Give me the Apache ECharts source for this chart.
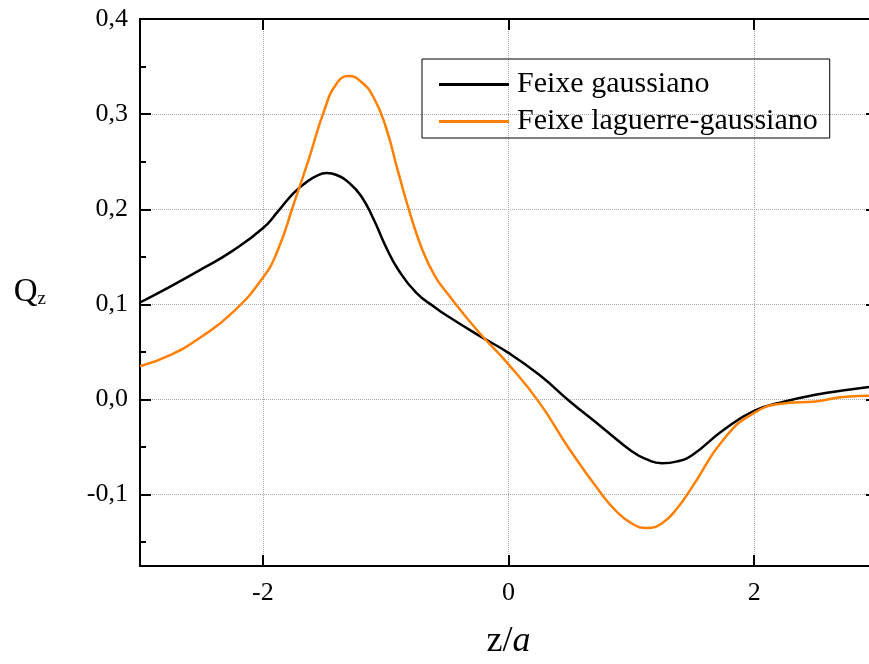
<!DOCTYPE html>
<html>
<head>
<meta charset="utf-8">
<script src="https://cdn.jsdelivr.net/npm/echarts@6/dist/echarts.min.js"></script>
<style>html,body{margin:0;padding:0;background:#fff;overflow:hidden;}#c{width:869px;height:664px;}</style>
</head>
<body>
<div id="c"></div>
<script>
const gaussZ = [-3, -2.75, -2.5, -2.25, -2, -1.875, -1.75, -1.65, -1.55, -1.48, -1.4, -1.3, -1.2, -1.1, -1, -0.9, -0.75, -0.6, -0.5, -0.25, 0, 0.25, 0.5, 0.75, 1, 1.125, 1.25, 1.375, 1.5, 1.75, 2, 2.25, 2.5, 2.75, 3];
const gaussQ = [0.102, 0.119, 0.137, 0.156, 0.180, 0.198, 0.217, 0.228, 0.236, 0.238, 0.236, 0.228, 0.214, 0.190, 0.161, 0.137, 0.112, 0.097, 0.088, 0.068, 0.049, 0.026, -0.002, -0.028, -0.054, -0.063, -0.067, -0.065, -0.058, -0.032, -0.012, -0.002, 0.005, 0.010, 0.014];
const lagZ = [-3, -2.75, -2.5, -2.25, -2, -1.875, -1.75, -1.625, -1.5, -1.4, -1.3, -1.2, -1.1, -1, -0.9, -0.8, -0.7, -0.6, -0.5, -0.25, 0, 0.25, 0.5, 0.75, 0.875, 1, 1.125, 1.25, 1.375, 1.5, 1.75, 2, 2.25, 2.5, 2.75, 3];
const lagQ = [0.035, 0.047, 0.066, 0.091, 0.128, 0.158, 0.205, 0.253, 0.304, 0.332, 0.340, 0.334, 0.318, 0.287, 0.240, 0.195, 0.157, 0.130, 0.112, 0.072, 0.037, -0.003, -0.053, -0.098, -0.117, -0.130, -0.135, -0.130, -0.114, -0.091, -0.042, -0.014, -0.004, -0.002, 0.003, 0.004];
const seriesNames = ['Feixe gaussiano', 'Feixe laguerre-gaussiano'];
const minorYTicks = [-0.15, -0.05, 0.05, 0.15, 0.25, 0.35];

const FONT = 'Liberation Serif';
const pairs = (xs, ys) => xs.map((x, i) => [x, ys[i]]);
const axisLine = { show: true, onZero: false, lineStyle: { color: '#000', width: 2 } };
const gridLine = { show: true, lineStyle: { color: '#aaa', type: 'dotted', width: 1 } };

const chart = echarts.init(document.getElementById('c'));
chart.setOption({
  animation: false,
  backgroundColor: '#fff',
  grid: { left: 140, top: 19, width: 737, height: 547, containLabel: false, outerBoundsMode: 'none' },
  legend: {
    orient: 'vertical', left: 422, top: 59,
    borderColor: '#000', borderWidth: 1,
    padding: [9, 12, 0, 17], itemGap: 4,
    itemWidth: 70, itemHeight: 3, icon: 'rect',
    textStyle: { fontFamily: FONT, fontSize: 30, color: '#000', lineHeight: 33, padding: [0, 0, 0, 3] },
    data: seriesNames
  },
  xAxis: [
    {
      type: 'value', min: -3, max: 3, splitNumber: 3, position: 'bottom',
      axisLine: axisLine,
      axisTick: { show: true, inside: true, length: 11, lineStyle: { color: '#000', width: 2 } },
      axisLabel: { show: true, showMinLabel: false, showMaxLabel: false, margin: 14, fontFamily: FONT, fontSize: 26, color: '#000' },
      splitLine: gridLine,
      name: '{n|z/}{i|a}', nameLocation: 'middle', nameGap: 58,
      nameTextStyle: { rich: { n: { fontFamily: FONT, fontSize: 36, color: '#000' }, i: { fontFamily: FONT, fontSize: 36, fontStyle: 'italic', color: '#000' } } }
    },
    {
      type: 'value', min: -3, max: 3, splitNumber: 3, position: 'top',
      axisLine: axisLine,
      axisTick: { show: true, inside: true, length: 11, lineStyle: { color: '#000', width: 2 } },
      axisLabel: { show: false },
      splitLine: { show: false }
    }
  ],
  yAxis: [
    {
      type: 'value', min: -0.175, max: 0.4, splitNumber: 6, position: 'left',
      axisLine: axisLine,
      axisTick: { show: true, inside: true, length: 11, lineStyle: { color: '#000', width: 2 } },
      axisLabel: { show: true, showMinLabel: false, margin: 12, fontFamily: FONT, fontSize: 26, color: '#000',
        formatter: v => v.toFixed(1).replace('.', ',') },
      splitLine: gridLine,
      name: '{q|Q}{s|z}', nameLocation: 'middle', nameRotate: 0, nameGap: 94,
      nameTextStyle: { rich: { q: { fontFamily: FONT, fontSize: 33, color: '#000' }, s: { fontFamily: FONT, fontSize: 19, color: '#000', verticalAlign: 'bottom', padding: [14, 0, 0, 0] } } }
    },
    {
      type: 'value', min: -0.175, max: 0.4, position: 'left',
      axisLine: { show: false, onZero: false },
      axisTick: { show: true, inside: true, length: 6, customValues: minorYTicks, lineStyle: { color: '#000', width: 2 } },
      axisLabel: { show: false },
      splitLine: { show: false }
    },
    {
      type: 'value', min: -0.175, max: 0.4, splitNumber: 6, position: 'right',
      axisLine: axisLine,
      axisTick: { show: true, inside: true, length: 11, lineStyle: { color: '#000', width: 2 } },
      axisLabel: { show: false },
      splitLine: { show: false }
    }
  ],
  series: [
    {
      name: seriesNames[0], type: 'line', xAxisIndex: 0, yAxisIndex: 0,
      data: pairs(gaussZ, gaussQ), smooth: 0.5, symbol: 'none',
      lineStyle: { color: '#000', width: 2.5 }, itemStyle: { color: '#000' }
    },
    {
      name: seriesNames[1], type: 'line', xAxisIndex: 0, yAxisIndex: 0,
      data: pairs(lagZ, lagQ), smooth: 0.5, symbol: 'none',
      lineStyle: { color: '#ff8000', width: 2.5 }, itemStyle: { color: '#ff8000' }
    }
  ]
});
</script>
</body>
</html>
